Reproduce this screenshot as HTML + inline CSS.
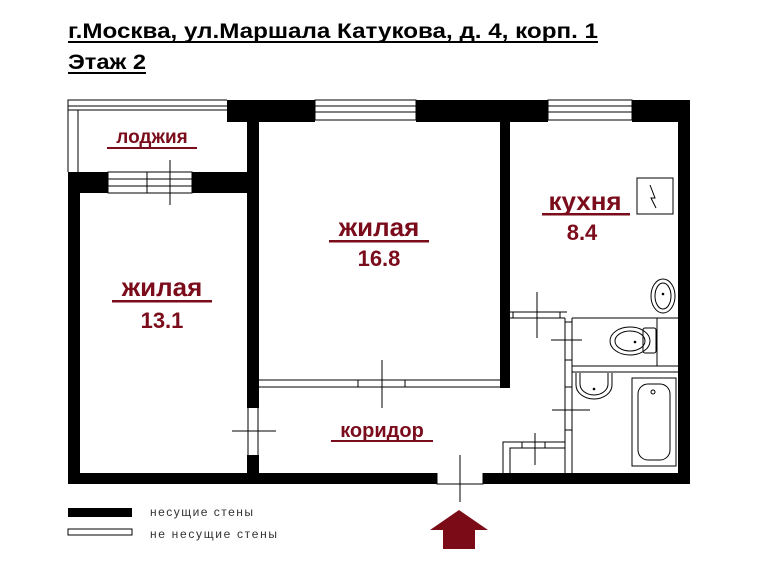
<!DOCTYPE html>
<html><head><meta charset="utf-8"><style>
html,body{margin:0;padding:0;background:#fff;}
svg{display:block;}
</style></head><body>
<svg width="759" height="569" viewBox="0 0 759 569" xmlns="http://www.w3.org/2000/svg" font-family="'Liberation Sans', sans-serif">
<rect width="759" height="569" fill="#fff"/>
<text x="68" y="38" font-size="21" font-weight="bold" textLength="530" lengthAdjust="spacingAndGlyphs">г.Москва, ул.Маршала Катукова, д. 4, корп. 1</text>
<rect x="68" y="41" width="530" height="2" fill="#000"/>
<text x="68" y="69" font-size="21" font-weight="bold" textLength="78" lengthAdjust="spacingAndGlyphs">Этаж 2</text>
<rect x="68" y="72" width="78" height="2" fill="#000"/>

<g fill="#000">
<rect x="227" y="100" width="88" height="22"/>
<rect x="416" y="100" width="132" height="22"/>
<rect x="632" y="100" width="58" height="22"/>
<rect x="678" y="100" width="12" height="384"/>
<rect x="68" y="473" width="369" height="11"/>
<rect x="483" y="473" width="207" height="11"/>
<rect x="68" y="172" width="12" height="312"/>
<rect x="68" y="172" width="40" height="21"/>
<rect x="192" y="172" width="56" height="21"/>
<rect x="247" y="122" width="12" height="286"/>
<rect x="247" y="455" width="12" height="20"/>
<rect x="500" y="122" width="10" height="266"/>
</g>

<g fill="none" stroke="#000" stroke-width="1">
<path d="M68 172 V100 H227 M68 106 H227 M68 110 H227 M78 110 V172"/>
<rect x="315" y="100" width="101" height="20"/>
<path d="M315 106 H416 M315 112 H416"/>
<rect x="548" y="100" width="84" height="20"/>
<path d="M548 106 H632 M548 112 H632"/>
<rect x="108" y="172" width="84" height="21"/>
<path d="M108 179 H192 M108 186 H192 M147 172 V193"/>
<path d="M170 160 V205"/>
<path d="M248 408 V455 M258 408 V455 M232 431 H276"/>
<path d="M259 380 H500 M259 387 H500 M358 380 V387 M405 380 V387 M382 360 V408"/>
<path d="M437 473 V484 H483 V473 M460 455 V502"/>
<path d="M510 312 H567 M510 318 H565 M513 312 V318 M560 312 V318 M537 292 V338 M551 340 H582"/>
<path d="M565 318 V473 M572 318 V473 M565 322 H572 M565 360 H572 M565 387 H572 M565 430 H572"/>
<path d="M552 410 H590"/>
<path d="M572 318 H678 M572 366 H678 M572 372 H678 M657 318 V366"/>
<path d="M503 473 V442 H565 M510 473 V448 H565 M522 442 V448 M545 442 V448 M535 433 V465"/>
<rect x="637" y="178" width="36" height="36"/>
<path d="M650 185 L655 198 L651 198 L656 208"/>
<ellipse cx="663" cy="296" rx="12" ry="17"/>
<ellipse cx="663" cy="296" rx="8" ry="13"/>
<ellipse cx="630" cy="341" rx="20" ry="14"/>
<ellipse cx="630" cy="341" rx="15" ry="10"/>
<rect x="643" y="328" width="13" height="25" rx="2"/>
<path d="M576 373 V385 A18 14 0 0 0 612 385 V373"/>
<path d="M580 373 V384 A14 11 0 0 0 608 384 V373"/>
<rect x="632" y="378" width="44" height="88"/>
<rect x="638" y="384" width="32" height="76" rx="10"/>
<circle cx="653" cy="392" r="2"/>
<rect x="68" y="529" width="64" height="6"/>
</g>
<circle cx="663" cy="294" r="1.3" fill="#000"/>
<circle cx="635" cy="342" r="1.3" fill="#000"/>
<circle cx="594" cy="389" r="1.3" fill="#000"/>

<rect x="68" y="508" width="64" height="9" fill="#000"/>
<text x="150" y="516" font-size="12" fill="#333" textLength="103" lengthAdjust="spacing">несущие  стены</text>
<text x="150" y="538" font-size="12" fill="#333" textLength="127" lengthAdjust="spacing">не  несущие  стены</text>

<path d="M459 510 L488 530 L475 530 L475 549 L443 549 L443 530 L430 530 Z" fill="#7b0c17"/>

<g fill="#7b0c1b" font-weight="bold" text-anchor="middle">
<text x="152" y="143" font-size="19">лоджия</text>
<rect x="107" y="147" width="90" height="2"/>
<text x="162" y="296" font-size="26">жилая</text>
<rect x="112" y="300" width="100" height="2.5"/>
<text x="162" y="328" font-size="22">13.1</text>
<text x="379" y="236" font-size="26">жилая</text>
<rect x="329" y="240" width="100" height="2.5"/>
<text x="379" y="266" font-size="22">16.8</text>
<text x="585" y="210" font-size="26">кухня</text>
<rect x="542" y="213" width="88" height="2.5"/>
<text x="582" y="240" font-size="22">8.4</text>
<text x="382" y="437" font-size="20">коридор</text>
<rect x="331" y="440" width="102" height="2"/>
</g>
</svg>
</body></html>
